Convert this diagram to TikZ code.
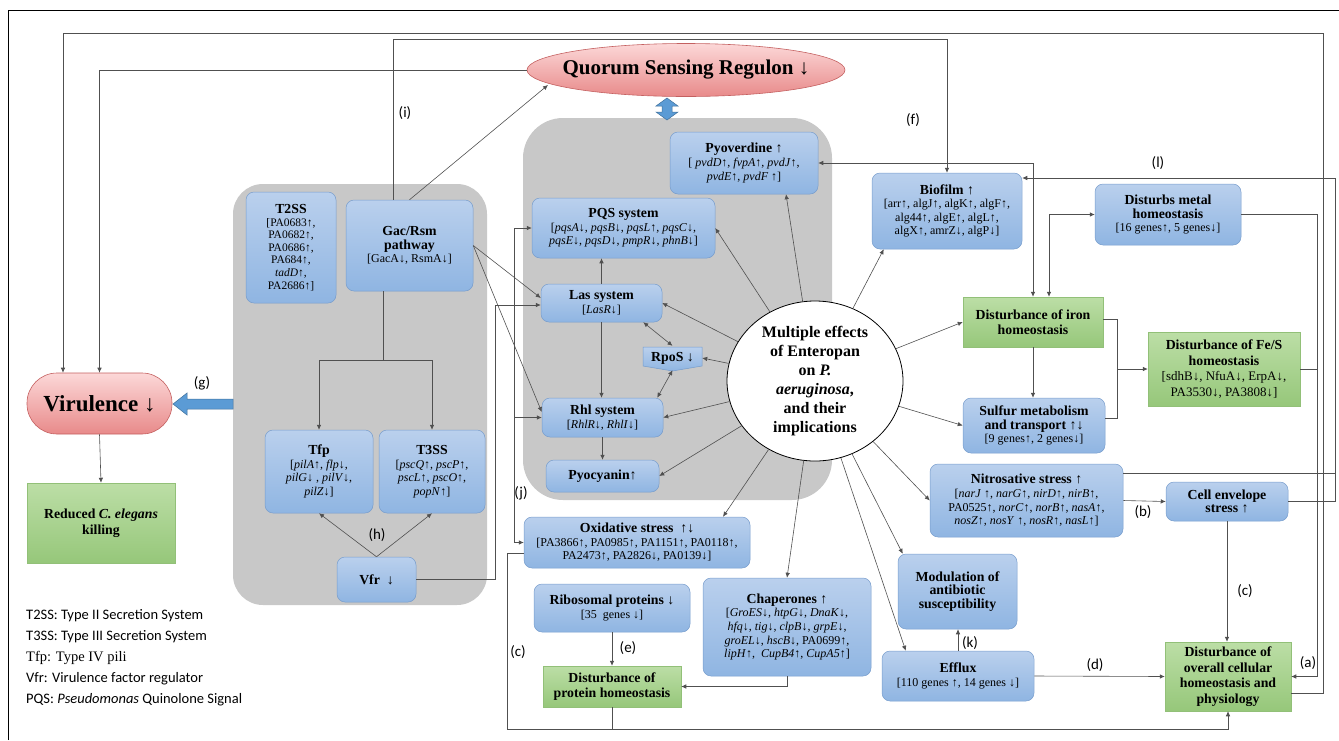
\documentclass[tikz,border=0pt]{standalone}
\usepackage{fontspec}
\setmainfont{Liberation Serif}
\newfontfamily\labfont{Carlito}
\usetikzlibrary{arrows.meta,shapes.geometric,calc}
\definecolor{bluetop}{RGB}{186,208,237}
\definecolor{bluebot}{RGB}{143,181,226}
\definecolor{blueline}{RGB}{118,156,204}
\definecolor{greentop}{RGB}{188,222,166}
\definecolor{greenbot}{RGB}{150,199,122}
\definecolor{greenline}{RGB}{146,192,120}
\definecolor{pinktop}{RGB}{252,216,216}
\definecolor{pinkbot}{RGB}{232,138,138}
\definecolor{pinkline}{RGB}{196,96,96}
\definecolor{panelc}{RGB}{200,200,200}
\definecolor{linec}{RGB}{80,80,80}
\definecolor{fatblue}{RGB}{91,155,213}
\definecolor{fatline}{RGB}{65,113,156}
\newcommand\ttl[1]{{\bfseries\fontsize{13.8}{15.5}\selectfont #1}}
\begin{document}
\begin{tikzpicture}[x=1pt,y=-1pt,
 ln/.style={draw=linec,line width=0.6pt},
 arr/.style={ln,-{Latex[length=5pt,width=4.5pt]}},
 arrb/.style={ln,{Latex[length=5pt,width=4.5pt]}-{Latex[length=5pt,width=4.5pt]}},
 bbox/.style={draw=blueline,line width=0.5pt,rounded corners=8pt,top color=bluetop,bottom color=bluebot,align=center,inner sep=1pt,font=\fontsize{12}{13.6}\selectfont},
 gbox/.style={draw=greenline,line width=0.5pt,top color=greentop,bottom color=greenbot,align=center,inner sep=1pt,font=\bfseries\fontsize{13.8}{15.5}\selectfont},
 sz/.style 2 args={minimum width=#1pt,minimum height=#2pt},
 lbl/.style={font=\labfont\fontsize{15}{15}\selectfont,inner sep=0pt},
 fat/.style={fill=fatblue,draw=fatline,line width=0.5pt},
 panel/.style={fill=panelc}
]
\useasboundingbox (0,0) rectangle (1339,740);
% frame
\draw[black,line width=1pt] (8,740) -- (8,10) -- (1339,10);
% panels
\path[panel,rounded corners=30pt] (233,184) rectangle (487,605);
\path[panel,rounded corners=40pt] (523,118) rectangle (832,500);

% top ellipse
\node[ellipse,sz={318}{53},top color=pinktop,bottom color=pinkbot,draw=pinkline,line width=0.6pt,inner sep=0pt,
 label={[font=\bfseries\fontsize{21}{23}\selectfont]center:Quorum Sensing Regulon ↓}] (qs) at (686,70) {};
% double arrow
\path[fat] (667,98) -- (678,106) -- (672,106) -- (672,112) -- (678,112) -- (667,120) -- (656,112) -- (662,112) -- (662,106) -- (656,106) -- cycle;

% left
\node[rectangle,rounded corners=30pt,sz={145}{61},top color=pinktop,bottom color=pinkbot,draw=pinkline,line width=0.6pt,font=\bfseries\fontsize{23}{25}\selectfont] (vir) at (99.5,403.5) {Virulence ↓};
\node[gbox,sz={148}{80}] (red) at (101,523) {Reduced \textit{C. elegans}\\killing};
\path[fat] (233,399) -- (187,399) -- (187,393) -- (173,404) -- (187,415) -- (187,409) -- (233,409) -- cycle;

% left panel boxes
\node[bbox,sz={90}{111},font=\fontsize{11.5}{12.6}\selectfont] (t2ss) at (291,247.5) {\ttl{T2SS}\\{[}PA0683↑,\\PA0682↑,\\PA0686↑,\\PA684↑,\\\textit{tadD}↑,\\PA2686↑]};
\node[bbox,sz={127}{91}] (gac) at (409.5,245.5) {\ttl{Gac/Rsm}\\\ttl{pathway}\\{[}GacA↓, RsmA↓]};
\node[bbox,sz={108}{83}] (tfp) at (319,471.5) {\ttl{Tfp}\\{[}\textit{pilA}↑, \textit{flp}↓,\\\textit{pilG}↓ , \textit{pilV}↓,\\\textit{pilZ}↓]};
\node[bbox,sz={106}{83}] (t3ss) at (432,471.5) {\ttl{T3SS}\\{[}\textit{pscQ}↑, \textit{pscP}↑,\\\textit{pscL}↑, \textit{pscO}↑,\\\textit{popN}↑]};
\node[bbox,sz={79}{45}] (vfr) at (376.5,579.5) {\ttl{Vfr ~↓}};

% centre panel boxes
\node[bbox,sz={148}{62}] (pyo) at (744,163) {\ttl{Pyoverdine ↑}\\{[} \textit{pvdD}↑, \textit{fvpA}↑, \textit{pvdJ}↑,\\\textit{pvdE}↑, \textit{pvdF} ↑]};
\node[bbox,sz={183}{60}] (pqs) at (623.5,228) {\ttl{PQS system}\\{[}\textit{pqsA}↓, \textit{pqsB}↓, \textit{pqsL}↑, \textit{pqsC}↓,\\\textit{pqsE}↓, \textit{pqsD}↓, \textit{pmpR}↓, \textit{phnB}↓]};
\node[bbox,sz={121}{38}] (las) at (601.5,303) {\ttl{Las system}\\{[}\textit{LasR}↓]};
\path[draw=blueline,line width=0.5pt,top color=bluetop,bottom color=bluebot] (643,347) -- (702,347) -- (702,366) -- (672.5,371) -- (643,366) -- cycle;
\node[inner sep=0pt,sz={59}{24}] (rpos) at (672.5,358) {\ttl{RpoS ↓}};
\node[bbox,sz={121}{39}] (rhl) at (602.5,417.5) {\ttl{Rhl system}\\{[}\textit{RhlR}↓, \textit{RhlI}↓]};
\node[bbox,sz={113}{32}] (pyoc) at (602.5,476) {\ttl{Pyocyanin↑}};

% circle
\node[ellipse,sz={176}{160},fill=white,draw=black,line width=0.8pt,inner sep=0pt,
 label={[align=center,font=\bfseries\fontsize{16}{19}\selectfont]center:Multiple effects\\of Enteropan\\on \textit{P.}\\\textit{aeruginosa},\\and their\\implications}] (circ) at (815,381) {};

% right boxes
\node[bbox,sz={150}{76}] (bio) at (947,211) {\ttl{Biofilm ↑}\\{[}arr↑, algJ↑, algK↑, algF↑,\\alg44↑, algE↑, algL↑,\\algX↑, amrZ↓, algP↓]};
\node[bbox,sz={146}{61}] (metal) at (1168,214.5) {\ttl{Disturbs metal}\\\ttl{homeostasis}\\{[}16 genes↑, 5 genes↓]};
\node[gbox,sz={140}{50}] (iron) at (1033,322) {Disturbance of iron\\homeostasis};
\node[bbox,sz={142}{55}] (sulf) at (1034,425.5) {\ttl{Sulfur metabolism}\\\ttl{and transport ↑↓}\\{[}9 genes↑, 2 genes↓]};
\node[gbox,sz={152}{74}] (fes) at (1224,369) {Disturbance of Fe/S\\homeostasis\\{\mdseries\fontsize{13}{14.5}\selectfont [sdhB↓, NfuA↓, ErpA↓,}\\{\mdseries\fontsize{13}{14.5}\selectfont PA3530↓, PA3808↓]}};
\node[bbox,sz={193}{73}] (nitro) at (1026.5,500.5) {\ttl{Nitrosative stress ↑}\\{[}\textit{narJ} ↑, \textit{narG}↑, \textit{nirD}↑, \textit{nirB}↑,\\PA0525↑, \textit{norC}↑, \textit{norB}↑, \textit{nasA}↑,\\\textit{nosZ}↑, \textit{nosY} ↑, \textit{nosR}↑, \textit{nasL}↑]};
\node[bbox,sz={122}{39}] (cell) at (1227,501.5) {\ttl{Cell envelope}\\\ttl{stress ↑}};
\node[bbox,sz={119}{75}] (mod) at (957.5,591.5) {\ttl{Modulation of}\\\ttl{antibiotic}\\\ttl{susceptibility}};
\node[bbox,sz={152}{50}] (eff) at (958,676) {\ttl{Efflux}\\{[}110 genes ↑, 14 genes ↓]};
\node[gbox,sz={126}{69}] (ov) at (1228,676.5) {Disturbance of\\overall cellular\\homeostasis and\\physiology};

% bottom boxes
\node[bbox,sz={226}{51}] (ox) at (637,542.5) {\ttl{Oxidative stress ~↑↓}\\{[}PA3866↑, PA0985↑, PA1151↑, PA0118↑,\\PA2473↑, PA2826↓, PA0139↓]};
\node[bbox,sz={156}{48}] (ribo) at (612,608) {\ttl{Ribosomal proteins ↓}\\{[}35 ~genes ↓]};
\node[bbox,sz={168}{98}] (chap) at (787,627) {\ttl{Chaperones ↑}\\{[}\textit{GroES}↓, \textit{htpG}↓, \textit{DnaK}↓,\\\textit{hfq}↓, \textit{tig}↓, \textit{clpB}↓, \textit{grpE}↓,\\\textit{groEL}↓, \textit{hscB}↓, PA0699↑,\\\textit{lipH}↑, ~\textit{CupB4}↑, \textit{CupA5}↑]};
\node[gbox,sz={138}{41}] (prot) at (612,686.5) {Disturbance of\\protein homeostasis};

% legend
\node[anchor=north west,align=left,inner sep=0pt,font=\labfont\fontsize{14.5}{21}\selectfont] (leg) at (26,609) {T2SS: Type II Secretion System\\T3SS: Type III Secretion System\\{\rmfamily Tfp: Type IV pili}\\Vfr: Virulence factor regulator\\PQS: \textit{Pseudomonas} Quinolone Signal};

% coordinates
\coordinate (fy) at (0,39);
\coordinate (ra) at (1323,33);
\coordinate (gs) at (383,360);
\coordinate (jx) at (495,305);
\coordinate (jv) at (514,0);
\coordinate (bx) at (1117,369);
\coordinate (rx1) at (1317,0);
\coordinate (rx3) at (1335,0);
\coordinate (bl) at (507,729);
\coordinate (bioin) at ([yshift=33]bio.east);
\coordinate (ntop) at ([yshift=27.5]nitro.east);
\coordinate (oxo) at ([yshift=-10.5]ox.west);

% connectors: top
\draw[arr] (qs.west) -| (vir.north);
\draw[arr] ([yshift=-16.5]ov.east) -| (ra) -| ([xshift=-36.5]vir.north);
\draw[arr] ([xshift=-16.5]gac.north) |- (bio.north |- fy) -- (bio.north);
\draw[arr] (gac.north) -- ($(qs.center)+(-138,15)$);
\draw[arr] (vir.south) -- (red.north);

% left panel
\draw[ln] ([xshift=-26.5]gac.south) -- (gs);
\draw[arr] (gs) -| (tfp.north);
\draw[arr] (gs) -| (t3ss.north);
\draw[arr] (vfr.north) -- (tfp.south);
\draw[arr] (vfr.north) -- (t3ss.south);
\draw[arr] (gac.east) -- ([yshift=5]las.west);
\draw[arr] (gac.east) -- ([yshift=5.5]rhl.west);
\draw[arr] (vfr.east) -| (jx) -- (las.west |- jx);
\draw[ln] (jv |- pqs.west) -- (jv |- ox.west);
\draw[arr] (jv |- pqs.west) -- (pqs.west);
\draw[arr] (jv |- rhl.west) -- (rhl.west);
\draw[arr] (jv |- ox.west) -- (ox.west);

% centre panel
\draw[arr] (las.north) -- (las.north |- pqs.south);
\draw[arr] (las.south) -- (las.south |- rhl.north);
\draw[arr] (rhl.south) -- (rhl.south |- pyoc.north);
\draw[arrb] ([xshift=-19]las.south east) -- (rpos.north);
\draw[arrb] (rpos.south) -- ([xshift=-6]rhl.north east);

% from circle
\draw[arr] (circ) -- ([xshift=42]pyo.south);
\draw[arr] (circ) -- (pqs.east);
\draw[arr] (circ) -- (las.east);
\draw[arr] (circ) -- (rpos.east);
\draw[arr] (circ) -- (rhl.east);
\draw[arr] (circ) -- (pyoc.east);
\draw[arr] (circ) -- ([xshift=86]ox.north);
\draw[arr] (circ) -- (chap.north);
\draw[arr] (circ) -- ([xshift=5]mod.north west);
\draw[arr] (circ) -- ([xshift=24]eff.north west);
\draw[arr] (circ) -- (nitro.west);
\draw[arr] (circ) -- (sulf.west);
\draw[arr] (circ) -- (iron.west);
\draw[arr] (circ) -- ([xshift=12]bio.south west);

% right side
\draw[arrb] (pyo.east) -| (iron.north);
\draw[arrb] (metal.west) -| ([xshift=16]iron.north);
\draw[arr] (iron.south) -- (iron.south |- sulf.north);
\draw[ln] ([yshift=3]iron.east) -| (bx) |- ([yshift=7]sulf.east);
\draw[arr] (bx) -- (fes.west);
\draw[arr] (metal.east) -| (rx1 |- ov.east) -- (ov.east);
\draw[ln] (fes.east) -- (fes.east -| rx1);
\draw[arr] (cell.east) -| (bioin -| rx3) -- (bioin);
\draw[ln] (ntop) -- (ntop -| rx3);
\draw[arr] (nitro.east) -- (cell.west);
\draw[arr] (cell.south) -- (cell.south |- ov.north);
\draw[arr] (eff.east) -- (ov.west);
\draw[arr] (eff.north) -- (eff.north |- mod.south);

% bottom
\draw[arr] (oxo) -| (bl) -| (ov.south);
\draw[ln] (prot.south) -- (prot.south |- bl);
\draw[arr] (ribo.south) -- (prot.north);
\draw[arr] (chap.south) |- (prot.east);

% labels
\node[lbl] (la) at (1308,663) {(a)};
\node[lbl] (lb) at (1143,512) {(b)};
\node[lbl] (lc1) at (1245,591) {(c)};
\node[lbl] (lc2) at (518,652) {(c)};
\node[lbl] (ld) at (1095,665) {(d)};
\node[lbl] (le) at (628,648) {(e)};
\node[lbl] (lf) at (913,120) {(f)};
\node[lbl] (lg) at (202,383) {(g)};
\node[lbl] (lh) at (377,535) {(h)};
\node[lbl] (li) at (405,113) {(i)};
\node[lbl] (lj) at (521,493) {(j)};
\node[lbl] (lk) at (970,643) {(k)};
\node[lbl] (ll) at (1158,163) {(l)};
\end{tikzpicture}
\end{document}
